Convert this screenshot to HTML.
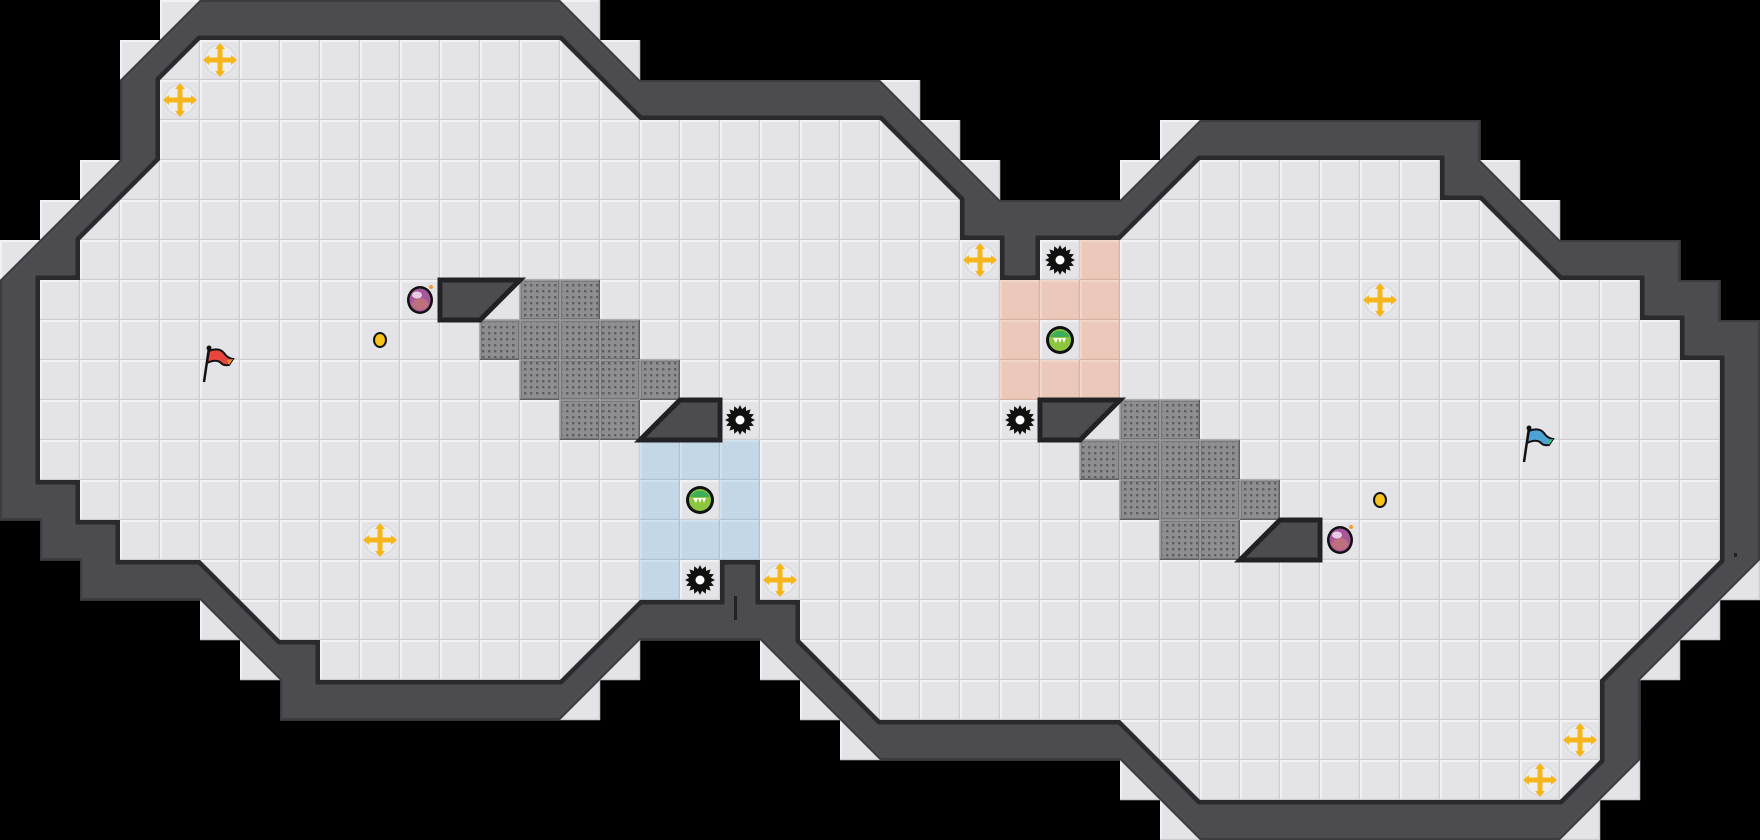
<!DOCTYPE html>
<html><head><meta charset="utf-8"><style>
html,body{margin:0;padding:0;background:#000;width:1760px;height:840px;overflow:hidden}
svg{display:block}
</style></head><body>
<svg id="s" xmlns="http://www.w3.org/2000/svg" width="1760" height="840" viewBox="0 0 1760 840">
<defs>
<pattern id="grate" width="6" height="6" patternUnits="userSpaceOnUse"><rect width="6" height="6" fill="#8e8e91"/><rect x="2" y="2" width="2.4" height="2.4" fill="#5e5e62"/></pattern>
</defs>
<rect width="1760" height="840" fill="#000"/>
<g id="tiles"></g>
<g id="walls"></g>
<g id="items"></g>
</svg>
<script>
const T=40, NS="http://www.w3.org/2000/svg";
const outer=[[5,0],[14,0],[16,2],[22,2],[25,5],[28,5],[30,3],[37,3],[37,4],[39,6],[42,6],[42,7],[43,7],[43,8],[44,8],[44,14],[41,17],[41,19],[39,21],[30,21],[28,19],[22,19],[19,16],[16,16],[14,18],[7,18],[7,17],[5,15],[2,15],[2,14],[1,14],[1,13],[0,13],[0,7],[3,4],[3,2]];
const inner=[[5,1],[14,1],[16,3],[22,3],[24,5],[24,6],[25,6],[25,7],[26,7],[26,6],[28,6],[30,4],[36,4],[36,5],[37,5],[39,7],[41,7],[41,8],[42,8],[42,9],[43,9],[43,14],[40,17],[40,19],[39,20],[30,20],[28,18],[22,18],[20,16],[20,15],[19,15],[19,14],[18,14],[18,15],[16,15],[14,17],[8,17],[8,16],[7,16],[5,14],[3,14],[3,13],[2,13],[2,12],[1,12],[1,7],[2,7],[2,6],[4,4],[4,2]];
function pip(x,y,p){let ins=false;for(let i=0,j=p.length-1;i<p.length;j=i++){const xi=p[i][0],yi=p[i][1],xj=p[j][0],yj=p[j][1];if(((yi>y)!=(yj>y))&&(x<(xj-xi)*(y-yi)/(yj-yi)+xi))ins=!ins;}return ins;}
const blue=new Set(["16,11","17,11","18,11","16,12","18,12","16,13","17,13","18,13","16,14"]);
const pink=new Set(["27,6","25,7","26,7","27,7","25,8","27,8","25,9","26,9","27,9"]);
const grate=new Set(["13,7","14,7","12,8","13,8","14,8","15,8","13,9","14,9","15,9","16,9","14,10","15,10",
"28,10","29,10","27,11","28,11","29,11","30,11","28,12","29,12","30,12","31,12","29,13","30,13"]);
let h="";
for(let r=0;r<21;r++)for(let c=0;c<44;c++){
 const pts=[[c+.1,r+.1],[c+.9,r+.1],[c+.1,r+.9],[c+.9,r+.9],[c+.5,r+.5]];
 if(!pts.some(p=>pip(p[0],p[1],outer)))continue;
 const x=c*T,y=r*T,k=c+","+r;
 if(grate.has(k)){
  h+=`<rect x="${x}" y="${y}" width="40" height="40" fill="#7a7a7e"/><rect x="${x+2}" y="${y+2}" width="36" height="36" fill="url(#grate)"/>`;
  h+=`<path d="M${x} ${y+40}V${y}H${x+40}" stroke="#a2a2a6" stroke-width="1.5" fill="none"/><path d="M${x} ${y+39.5}H${x+39.5}V${y}" stroke="#606064" stroke-width="1.5" fill="none"/>`;
  continue;}
 let col="#e4e4e8",hi="#f1f1f4",lo="#cdcdd2";
 if(blue.has(k)){col="#c3d7e6";hi="#d0e1ee";lo="#adc3d3";}
 if(pink.has(k)){col="#ebc8b9";hi="#f3d6ca";lo="#d8b3a4";}
 h+=`<rect x="${x}" y="${y}" width="40" height="40" fill="${col}"/>`;
 h+=`<path d="M${x+1} ${y+39}V${y+1}H${x+39}" stroke="${hi}" stroke-width="2" fill="none"/>`;
 h+=`<path d="M${x} ${y+39.5}H${x+39.5}V${y}" stroke="${lo}" stroke-width="1.5" fill="none"/>`;
}
document.getElementById("tiles").innerHTML=h;
const P=p=>"M"+p.map(q=>(q[0]*T)+" "+(q[1]*T)).join("L")+"Z";
const wallD=P(outer)+P(inner);
let w=`<clipPath id="wc"><path d="${wallD}" clip-rule="evenodd"/></clipPath>`;
w+=`<path d="${wallD}" fill="#4b4b50" fill-rule="evenodd"/>`;
w+=`<g clip-path="url(#wc)"><path d="${P(inner)}" fill="none" stroke="#2a2a2e" stroke-width="9"/><path d="${P(outer)}" fill="none" stroke="#3c3c41" stroke-width="4"/></g>`;
w+=`<rect x="734" y="596" width="3" height="24" fill="#222226"/>`;
w+=`<rect x="1734" y="553" width="3" height="4" fill="#222226"/>`;
const ramps=[[[11,7],[13,7],[12,8],[11,8]],[[17,10],[18,10],[18,11],[16,11]],[[26,10],[28,10],[27,11],[26,11]],[[32,13],[33,13],[33,14],[31,14]]];
ramps.forEach(r=>{w+=`<path d="${P(r)}" fill="#222226"/>`;
 const c=r.map(q=>[q[0]*T,q[1]*T]);
 w+=`<path d="${P(r)}" fill="#4b4b50" stroke="#222226" stroke-width="5" stroke-linejoin="miter" transform="translate(0,0)"/>`;});
document.getElementById("walls").innerHTML=w;
function cx(c){return c*T+20}
let it="";
function cross(c,r){const x=cx(c),y=cx(r);
 it+=`<circle cx="${x}" cy="${y}" r="15" fill="#eeeef1" stroke="#d8d8dc" stroke-width="1"/>`;
 it+=`<g fill="#f7b51c"><rect x="${x-12}" y="${y-2.5}" width="24" height="5"/><rect x="${x-2.5}" y="${y-12}" width="5" height="24"/>
 <path d="M${x} ${y-17}l-5 6h10z M${x} ${y+17}l-5 -6h10z M${x-17} ${y}l6 -5v10z M${x+17} ${y}l-6 -5v10z"/></g>`;}
[[5,1],[4,2],[9,13],[19,14],[24,6],[34,7],[39,18],[38,19]].forEach(a=>cross(a[0],a[1]));
function gear(c,r){const x=cx(c),y=cx(r);let p="";for(let i=0;i<32;i++){const a=i*Math.PI/16,rad=i%2?11:15;p+=(i?"L":"M")+(x+rad*Math.cos(a)).toFixed(1)+" "+(y+rad*Math.sin(a)).toFixed(1);}
 it+=`<path d="${p}Z" fill="#111"/><circle cx="${x}" cy="${y}" r="4.5" fill="#fff"/>`;}
[[18,10],[17,14],[26,6],[25,10]].forEach(a=>gear(a[0],a[1]));
function bomb(c,r){const x=cx(c),y=cx(r);
 it+=`<ellipse cx="${x}" cy="${y}" rx="13" ry="14" fill="#111"/><ellipse cx="${x}" cy="${y}" rx="10.5" ry="11.5" fill="#a6569a"/><ellipse cx="${x}" cy="${y+4}" rx="8" ry="6" fill="#c87a6f" opacity=".7"/><ellipse cx="${x-3}" cy="${y-5}" rx="5" ry="3.5" fill="#f4e0f0" opacity=".85"/><circle cx="${x+11}" cy="${y-13}" r="2" fill="#f29a2e"/>`;}
bomb(10,7);bomb(33,13);
function coin(c,r){const x=cx(c),y=cx(r);it+=`<ellipse cx="${x}" cy="${y}" rx="7" ry="8" fill="#111"/><ellipse cx="${x}" cy="${y}" rx="5" ry="6" fill="#f7c21c"/>`;}
coin(9,8);coin(34,12);
function orb(c,r){const x=cx(c),y=cx(r);
 it+=`<circle cx="${x}" cy="${y}" r="14" fill="#111"/><circle cx="${x}" cy="${y}" r="11" fill="#8cc63f"/><path d="M${x-10} ${y-3}a11 11 0 0 1 20 0z" fill="#3daf5a"/><path d="M${x-7} ${y-2}l3 5 2-5 2 5 2-5 2 5 2-5z" fill="#fff"/>`;}
orb(17,12);orb(26,8);
function flag(c,r,col,col2){const x=c*T,y=r*T;
 it+=`<path d="M${x+4} ${y+38}L${x+9} ${y+4}" stroke="#111" stroke-width="2.5"/><circle cx="${x+9}" cy="${y+4}" r="2.5" fill="#111"/>`;
 it+=`<path d="M${x+9} ${y+7}q10-4 15 2q3 5 9 6l-4 6q-6 1-9-3q-5-3-13 1z" fill="${col}" stroke="#111" stroke-width="2"/><path d="M${x+27} ${y+16}l6-1-4 6z" fill="${col2}"/>`;}
flag(5,8.6,"#e8453c","#f08a2a");flag(38,10.6,"#4ea3d6","#3bbf8a");
document.getElementById("items").innerHTML=it;
</script>
</body></html>
